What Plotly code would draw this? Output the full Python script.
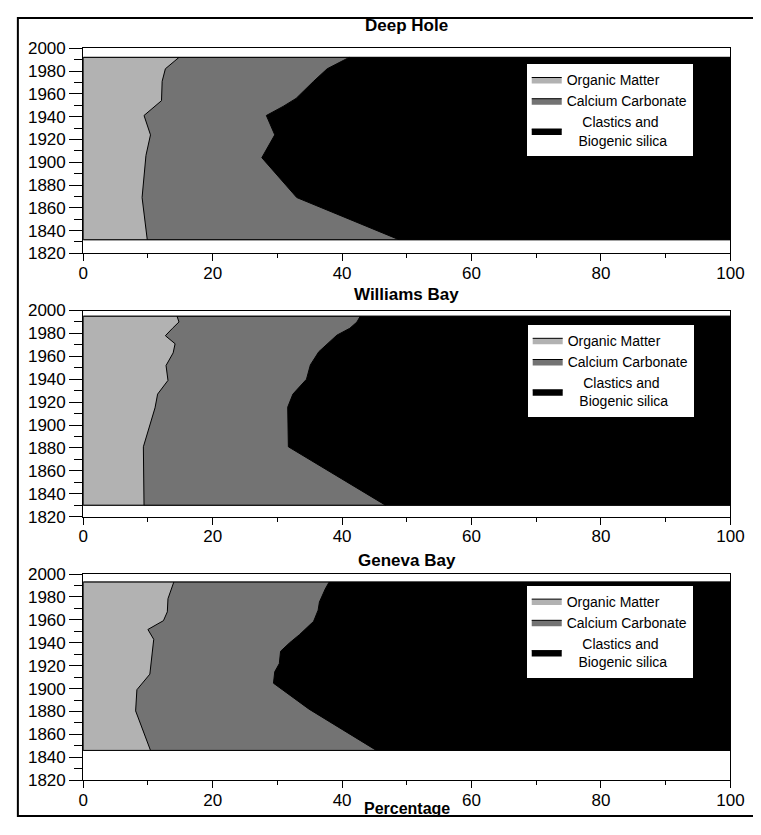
import plotly.graph_objects as go

# ---------------- data ----------------
panel_names = ["Deep Hole", "Williams Bay", "Geneva Bay"]
legend_names = ["Organic Matter", "Calcium Carbonate", "Clastics and<br>Biogenic silica"]

# Deep Hole
dh_core_top = 1992
dh_core_bottom = 1832
dh_om_years = [1992, 1982, 1971, 1954, 1941, 1924, 1906, 1869, 1832]
dh_om_pct = [14.8, 12.7, 12.2, 12.1, 9.4, 10.4, 9.7, 9.1, 9.9]
dh_cc_years = [1992, 1982, 1971, 1956, 1949, 1941, 1924, 1904, 1869, 1832]
dh_cc_cum = [41.1, 37.7, 35.6, 32.9, 30.9, 28.3, 29.6, 27.6, 33.0, 48.8]

# Williams Bay
wb_core_top = 1995
wb_core_bottom = 1830
wb_om_years = [1995, 1990, 1984.5, 1978, 1971, 1963, 1952, 1939, 1927, 1915, 1881, 1830]
wb_om_pct = [14.5, 14.8, 13.8, 12.7, 14.2, 13.9, 12.8, 13.1, 11.5, 11.1, 9.3, 9.4]
wb_cc_years = [1995, 1990, 1984.5, 1978.5, 1964, 1952.5, 1940, 1927, 1915.6, 1881, 1830]
wb_cc_cum = [42.8, 42.3, 41.2, 39.2, 36.4, 35.1, 34.5, 32.4, 31.6, 31.7, 46.7]

# Geneva Bay
gb_core_top = 1993
gb_core_bottom = 1846
gb_om_years = [1993, 1978.5, 1967, 1959.3, 1951.6, 1943, 1912.6, 1899, 1880.5, 1846]
gb_om_pct = [14.0, 13.1, 13.0, 12.4, 10.0, 10.9, 10.3, 8.3, 8.1, 10.4]
gb_cc_years = [1993, 1987, 1975.6, 1968.5, 1958.7, 1947, 1940, 1932.6, 1921.8, 1914.7, 1904.7, 1882, 1846]
gb_cc_cum = [38.0, 37.4, 36.5, 36.3, 35.6, 33.4, 31.9, 30.5, 30.3, 29.6, 29.4, 34.9, 45.3]

pct_min, pct_max = 0, 100
year_min, year_max = 1820, 2000
x_ticks = [0, 20, 40, 60, 80, 100]
y_ticks = [1820, 1840, 1860, 1880, 1900, 1920, 1940, 1960, 1980, 2000]

panels = [
    (dh_core_top, dh_core_bottom, dh_om_years, dh_om_pct, dh_cc_years, dh_cc_cum),
    (wb_core_top, wb_core_bottom, wb_om_years, wb_om_pct, wb_cc_years, wb_cc_cum),
    (gb_core_top, gb_core_bottom, gb_om_years, gb_om_pct, gb_cc_years, gb_cc_cum),
]

# ---------------- styling / layout ----------------
PAGE_W, PAGE_H = 761, 835
BODY_MARGIN = 8                      # default page margin around the figure
W, H = PAGE_W - BODY_MARGIN, PAGE_H - 2 * BODY_MARGIN
FONT = "Liberation Sans, Arial, sans-serif"
C_OM = "#b2b2b2"
C_CC = "#737373"
C_CL = "#000000"


def fx(px):  # page pixel -> paper x
    return (px - BODY_MARGIN) / W


def fy(py):  # page pixel -> paper y
    return 1 - (py - BODY_MARGIN) / H


plot_x = (fx(80), fx(744))
plot_y_px = [(40, 250), (308.5, 519.5), (578.3, 789.3)]
legend_px = [(534, 55), (535, 322), (534, 589)]
title_y_px = [17, 292, 564]

fig = go.Figure()
layout_extra = {}

for i, (top, bot, om_y, om_x, cc_y, cc_x) in enumerate(panels):
    n = i + 1
    xa = "x" if n == 1 else f"x{n}"
    ya = "y" if n == 1 else f"y{n}"
    lg = "legend" if n == 1 else f"legend{n}"

    # clastics (remainder to 100 %)
    fig.add_trace(go.Scatter(
        x=[pct_min, pct_max, pct_max, pct_min, pct_min],
        y=[bot, bot, top, top, bot],
        mode="lines", fill="toself", fillcolor=C_CL,
        line=dict(color="black", width=1),
        name="\u00a0\u00a0\u00a0\u00a0Clastics and<br>\u00a0\u00a0\u00a0Biogenic silica",
        xaxis=xa, yaxis=ya, legend=lg, legendrank=3, hoverinfo="skip"))
    # calcium carbonate (cumulative boundary)
    fig.add_trace(go.Scatter(
        x=cc_x, y=cc_y, mode="lines", fill="tozerox", fillcolor=C_CC,
        line=dict(color="black", width=1),
        name=legend_names[1], xaxis=xa, yaxis=ya, legend=lg, legendrank=2,
        hoverinfo="skip"))
    # organic matter
    fig.add_trace(go.Scatter(
        x=om_x, y=om_y, mode="lines", fill="tozerox", fillcolor=C_OM,
        line=dict(color="black", width=1),
        name=legend_names[0], xaxis=xa, yaxis=ya, legend=lg, legendrank=1,
        hoverinfo="skip"))
    # core outline on top
    fig.add_trace(go.Scatter(
        x=[pct_min, pct_max, pct_max, pct_min, pct_min],
        y=[bot, bot, top, top, bot],
        mode="lines", line=dict(color="black", width=1),
        showlegend=False, xaxis=xa, yaxis=ya, hoverinfo="skip"))

    y0, y1 = plot_y_px[i]
    xkey = "xaxis" if n == 1 else f"xaxis{n}"
    ykey = "yaxis" if n == 1 else f"yaxis{n}"
    layout_extra[xkey] = dict(
        domain=list(plot_x), anchor=ya, range=[pct_min, pct_max],
        tickvals=x_ticks, ticks="outside", ticklen=7, tickcolor="black",
        minor=dict(dtick=10, ticklen=4, ticks="outside", tickcolor="black"),
        showline=True, linecolor="black", linewidth=1, mirror=True,
        showgrid=False, zeroline=False, ticklabelstandoff=-3,
        tickfont=dict(family=FONT, size=17, color="black"))
    layout_extra[ykey] = dict(
        domain=[fy(y1), fy(y0)], anchor=xa, range=[year_min, year_max],
        tickvals=y_ticks, ticks="outside", ticklen=13, tickcolor="black",
        minor=dict(dtick=10, ticklen=8, ticks="outside", tickcolor="black"),
        showline=True, linecolor="black", linewidth=1, mirror=True,
        showgrid=False, zeroline=False,
        tickfont=dict(family=FONT, size=17, color="black"))
    lx, ly = legend_px[i]
    layout_extra[lg] = dict(
        x=fx(lx), y=fy(ly), xanchor="left", yanchor="top",
        bgcolor="white", bordercolor="black", borderwidth=1,
        font=dict(family=FONT, size=14, color="black"),
        itemclick=False, itemdoubleclick=False, tracegroupgap=0,
        itemwidth=30)

annotations = []
for i, name in enumerate(panel_names):
    annotations.append(dict(
        text=f"<b>{name}</b>", x=(plot_x[0] + plot_x[1]) / 2, y=fy(title_y_px[i]),
        xref="paper", yref="paper", xanchor="center", yanchor="middle",
        showarrow=False, font=dict(family=FONT, size=17, color="black")))
annotations.append(dict(
    text="<b>Percentage</b>", x=(plot_x[0] + plot_x[1]) / 2, y=fy(818),
    xref="paper", yref="paper", xanchor="center", yanchor="middle",
    showarrow=False, font=dict(family=FONT, size=16, color="black")))

fig.update_layout(
    width=W, height=H,
    margin=dict(l=0, r=0, t=0, b=0),
    paper_bgcolor="white", plot_bgcolor="white",
    annotations=annotations,
    shapes=[dict(type="rect", xref="paper", yref="paper",
                 x0=fx(13), x1=1.01, y0=fy(826), y1=fy(9),
                 line=dict(color="black", width=2), fillcolor="rgba(0,0,0,0)")],
    **layout_extra,
)

fig.write_html("out.html", config={"displayModeBar": False})
